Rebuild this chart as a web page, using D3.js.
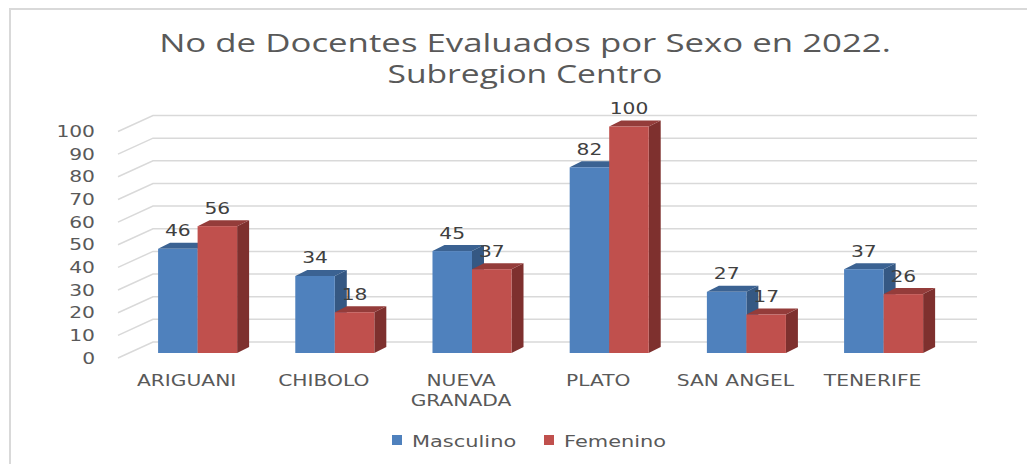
<!DOCTYPE html>
<html>
<head>
<meta charset="utf-8">
<script src="https://cdn.jsdelivr.net/npm/d3@7"></script>
<style>
html,body{margin:0;padding:0;background:#fff;}
svg{display:block;}
</style>
</head>
<body>
<svg id="chart" width="1027" height="464"></svg>
<script>
// ---- data ----
const categories = ["ARIGUANI", "CHIBOLO", "NUEVA GRANADA", "PLATO", "SAN ANGEL", "TENERIFE"];
const masculino = [46, 34, 45, 82, 27, 37];
const femenino = [56, 18, 37, 100, 17, 26];
const seriesNames = ["Masculino", "Femenino"];
const yTicks = [0, 10, 20, 30, 40, 50, 60, 70, 80, 90, 100];
const titleLines = ["No de Docentes Evaluados por Sexo en 2022.", "Subregion Centro"];

// ---- styling / layout ----
const colors = {
  Masculino: {front: "#4F81BD", top: "#3B6292", side: "#355883"},
  Femenino: {front: "#C0504D", top: "#943C3A", side: "#7E302E"}
};
const SX = 1.35;            // horizontal stretch of text in reference
const axisFont = "'DejaVu Sans', Verdana, sans-serif";
const svg = d3.select("#chart");

svg.append("rect").attr("width", 1027).attr("height", 464).attr("fill", "#fff");

// chart border (partially visible)
svg.append("path").attr("d", "M10,470 L10,9 L1030,9")
  .attr("fill", "none").attr("stroke", "#D9D9D9").attr("stroke-width", 2);

// scales
const y = d3.scaleLinear().domain([0, 100]).range([0, 226.5]); // height in px
const x0 = d3.scaleBand().domain(categories).range([129, 952.2]).paddingInner(0.424).paddingOuter(0.212);
const x1 = d3.scaleBand().domain(seriesNames).range([0, x0.bandwidth()]);

const frontBase = 358, backBase = 342, barBase = 353;
const frontX = 118, backX = 153, rightX = 977;
const dDx = 12, dDy = -6;

// gridlines (3D wall + floor diagonals)
svg.append("g").selectAll("path").data(yTicks).join("path")
  .attr("d", v => `M${frontX},${frontBase - y(v)} L${backX},${backBase - y(v)} L${rightX},${backBase - y(v)}`)
  .attr("fill", "none").attr("stroke", "#D9D9D9").attr("stroke-width", 1.5);

// y tick labels
svg.append("g").selectAll("text").data(yTicks).join("text")
  .attr("transform", v => `translate(95,${frontBase - y(v) + 5.5}) scale(${SX},1)`)
  .attr("text-anchor", "end").attr("font-family", axisFont).attr("font-size", 15)
  .attr("fill", "#595959").text(v => v);

// bars
const bars = [];
categories.forEach((c, i) => {
  bars.push({cat: c, s: "Masculino", v: masculino[i]});
  bars.push({cat: c, s: "Femenino", v: femenino[i]});
});
const gb = svg.append("g");
bars.forEach(b => {
  const x = x0(b.cat) + x1(b.s), w = x1.bandwidth();
  const top = barBase - y(b.v);
  const col = colors[b.s];
  gb.append("path").attr("fill", col.side)
    .attr("d", `M${x + w},${top} L${x + w + dDx},${top + dDy} L${x + w + dDx},${barBase + dDy} L${x + w},${barBase}Z`);
  gb.append("path").attr("fill", col.top)
    .attr("d", `M${x},${top} L${x + dDx},${top + dDy} L${x + w + dDx},${top + dDy} L${x + w},${top}Z`);
  gb.append("rect").attr("x", x).attr("y", top).attr("width", w).attr("height", y(b.v)).attr("fill", col.front);
});

// data labels
svg.append("g").selectAll("text").data(bars).join("text")
  .attr("transform", b => `translate(${x0(b.cat) + x1(b.s) + x1.bandwidth() / 2},${barBase - y(b.v) - 12.5}) scale(${SX},1)`)
  .attr("text-anchor", "middle").attr("font-family", axisFont).attr("font-size", 15)
  .attr("fill", "#404040").text(b => b.v);

// category labels
const gc = svg.append("g");
categories.forEach(c => {
  const words = c === "NUEVA GRANADA" ? ["NUEVA", "GRANADA"] : [c];
  words.forEach((wd, k) => {
    gc.append("text")
      .attr("transform", `translate(${x0(c) + x0.bandwidth() / 2 - 11},${386 + k * 20}) scale(${SX},1)`)
      .attr("text-anchor", "middle").attr("font-family", axisFont).attr("font-size", 15)
      .attr("fill", "#595959").text(wd);
  });
});

// title
const titleW = [732, 275];
titleLines.forEach((t, k) => {
  const tx = svg.append("text").attr("font-family", "'Open Sans', Lato, sans-serif").attr("font-size", 25)
    .attr("fill", "#595959").attr("text-anchor", "middle").text(t);
  const len = tx.node().getComputedTextLength();
  tx.attr("transform", `translate(525,${51.5 + k * 31}) scale(${titleW[k] / len},1)`);
});

// legend
const legX = [392, 544];
seriesNames.forEach((s, k) => {
  svg.append("rect").attr("x", legX[k]).attr("y", 435).attr("width", 10).attr("height", 10).attr("fill", colors[s].front);
  svg.append("text").attr("transform", `translate(${legX[k] + 20},447) scale(${SX},1)`)
    .attr("font-family", axisFont).attr("font-size", 15.5).attr("fill", "#595959").text(s);
});
</script>
</body>
</html>
